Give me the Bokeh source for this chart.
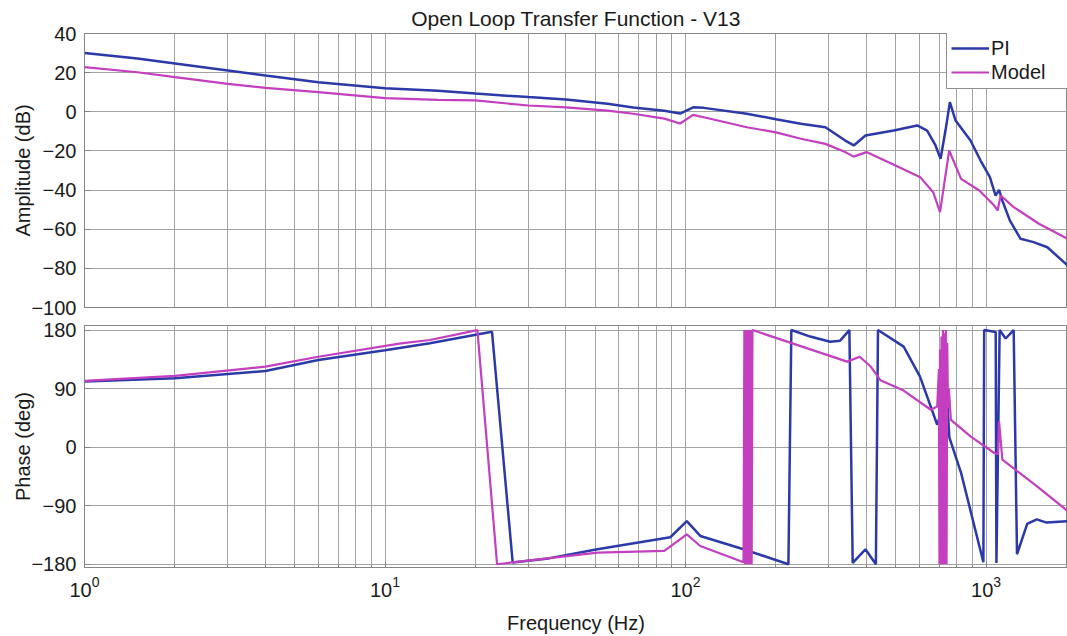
from bokeh.plotting import figure
from bokeh.layouts import column
from bokeh.models import FixedTicker, Legend, LegendItem, Range1d
from bokeh.embed import file_html
from bokeh.resources import INLINE

# ---- data: open-loop transfer function, PI controller vs model ----
# amplitude (dB)
pi_amp_f = [1, 1.5, 2, 3, 4, 6, 10, 15, 20, 30, 40, 55, 67, 85, 96, 106, 115, 160, 200,
            242, 292, 340, 363, 397, 493, 590, 637, 679, 706, 733, 758, 792, 888, 959,
            1030, 1076, 1105, 1133, 1200, 1303, 1439, 1600, 1867]
pi_amp = [30, 27.2, 24.7, 21.1, 18.5, 15.1, 12, 10.8, 9.3, 7.5, 6.3, 4.1, 2.2, 0.5, -0.9,
          2.3, 2.0, -1.0, -3.8, -6.1, -7.9, -14.7, -17.2, -12.1, -9.6, -7.0, -9.6, -17.2,
          -24, -9.6, 4.9, -4.5, -14.7, -24.9, -33.4, -42.8, -39.9, -45.3, -55.5, -64.9,
          -66.6, -69.2, -78.5]

model_amp_f = [1, 1.5, 2, 3, 4, 6, 10, 15, 20, 30, 40, 55, 67, 85, 96, 106, 115, 160, 200,
               242, 292, 340, 363, 400, 500, 604, 667, 703, 754, 826, 950, 1065, 1093,
               1119, 1236, 1500, 1867]
model_amp = [22.8, 20.2, 17.7, 14.3, 12.2, 10.0, 7.0, 6.1, 5.8, 3.2, 2.3, 0.6, -1.0, -3.5,
             -6.0, -1.6, -2.8, -7.9, -10.5, -13.8, -16.4, -20.6, -22.9, -20.6, -27.5,
             -33.4, -41.1, -51.3, -19.8, -34.3, -40.2, -47.9, -50.4, -42.8, -48.7, -57.2,
             -64.9]

# phase (deg), wrapped to +/-180
pi_ph_f = [1, 2, 4, 6, 10, 14.1, 22.7, 26.6, 35, 50.9, 89, 101, 112, 156, 220, 225, 260,
           303, 327, 351, 360, 397, 430, 437, 532, 603, 688, 700, 735, 745, 755, 826, 980,
           986, 1077, 1083, 1110, 1162, 1236, 1268, 1371, 1475, 1591, 1867]
pi_ph = [100.8, 106, 117, 134, 149, 159.6, 177.4, -177.3, -171, -157, -138.5, -113.6,
         -136.5, -157, -180, 180, 170, 162, 163.7, 180, -178, -157, -180, 180, 154.5,
         108.5, 34.5, 45, 60, 62, 15, -39.5, -177, 180, 177, -178, 180, 167, 180, -164.6,
         -118, -111, -116, -114]

model_ph_f = [1, 2, 4, 6, 11.3, 14.1, 20.3, 23.6, 51, 85, 101, 112, 156, 157, 158, 159,
              160, 161, 162, 163, 164, 165, 166, 167, 345, 380, 413, 445, 532, 655, 688,
              697, 700, 703, 707, 711, 715, 719, 723, 727, 731, 735, 739, 743, 747, 752,
              764, 888, 1065, 1095, 1105, 1133, 1475, 1867]
model_ph = [101.9, 109.6, 123.8, 139, 159.6, 164.7, 180, -180, -162, -159.5, -134, -152,
            -177, 180, -180, 180, -180, 180, -180, 180, -180, 180, -180, 180, 131.5, 139,
            124, 103, 87, 57.5, 62.6, 120, -180, 150, -180, 170, -180, 180, -180, 175,
            -180, 180, -180, 160, 60, 90, 42, 16.6, -9, -11, 39.6, -19, -60, -98]

amp_ticks = [-100, -80, -60, -40, -20, 0, 20, 40]
phase_ticks = [-180, -90, 0, 90, 180]
decade_ticks = [1, 10, 100, 1000]

FONT = "Liberation Sans"
BLUE = "#2c39a9"
MAGENTA = "#c33fbf"
GRID = "#a3a3a3"
FRAME = "#858585"

minor_log = [m * 10 ** e for e in range(4) for m in range(2, 10)]
x_range = Range1d(1, 1867)


def style(p, ylabel, yticks):
    p.outline_line_color = FRAME
    p.outline_line_width = 1
    p.background_fill_color = "white"
    p.border_fill_color = "white"
    p.xgrid.ticker = FixedTicker(ticks=decade_ticks, minor_ticks=minor_log)
    p.xgrid.grid_line_color = GRID
    p.xgrid.minor_grid_line_color = GRID
    p.ygrid.grid_line_color = GRID
    p.xaxis.ticker = FixedTicker(ticks=decade_ticks, minor_ticks=minor_log)
    p.yaxis.ticker = FixedTicker(ticks=yticks)
    p.ygrid.ticker = FixedTicker(ticks=yticks)
    for ax in p.axis:
        ax.axis_line_color = FRAME
        ax.major_tick_line_color = FRAME
        ax.minor_tick_line_color = FRAME
        ax.major_tick_in = 6
        ax.major_tick_out = 0
        ax.minor_tick_in = 3
        ax.minor_tick_out = 0
        ax.major_label_text_font = FONT
        ax.major_label_text_font_size = "20px"
        ax.major_label_text_color = "#1a1a1a"
        ax.axis_label_text_font = FONT
        ax.axis_label_text_font_size = "20px"
        ax.axis_label_text_font_style = "normal"
        ax.axis_label_text_color = "#1a1a1a"
    p.yaxis.minor_tick_line_color = None
    p.yaxis.major_label_standoff = 8
    p.yaxis.axis_label_standoff = -6
    p.yaxis.axis_label = ylabel


top = figure(width=1067, height=318, x_axis_type="log", x_range=x_range,
             y_range=Range1d(-100, 40), output_backend="svg", toolbar_location=None,
             min_border_left=84, min_border_right=0, min_border_top=33,
             min_border_bottom=11, title="Open Loop Transfer Function - V13")
top.title.align = "center"
top.title.text_font = FONT
top.title.text_font_size = "21px"
top.title.text_font_style = "normal"
top.title.text_color = "#1a1a1a"
top.title.standoff = 7
style(top, "Amplitude (dB)", amp_ticks)
top.xaxis.visible = False

r_pi = top.line(pi_amp_f, pi_amp, line_color=BLUE, line_width=2.5)
r_md = top.line(model_amp_f, model_amp, line_color=MAGENTA, line_width=2.2)

legend = Legend(items=[LegendItem(label="PI", renderers=[r_pi]),
                       LegendItem(label="Model", renderers=[r_md])],
                location=(862, 218))
legend.border_line_color = "#222222"
legend.border_line_width = 1.2
legend.background_fill_color = "white"
legend.background_fill_alpha = 1
legend.label_text_font = FONT
legend.label_text_font_size = "20px"
legend.label_text_color = "#1a1a1a"
legend.glyph_width = 38
legend.glyph_height = 24
legend.label_height = 24
legend.label_width = 90
legend.label_standoff = 2
legend.spacing = 0
legend.padding = 4
legend.margin = 0
top.add_layout(legend)

bottom = figure(width=1067, height=318, x_axis_type="log", x_range=x_range,
                y_range=Range1d(-185, 187), output_backend="svg", toolbar_location=None,
                min_border_left=84, min_border_right=0, min_border_top=7,
                min_border_bottom=68)
style(bottom, "Phase (deg)", phase_ticks)
bottom.xaxis.axis_label = "Frequency (Hz)"
bottom.xaxis.major_label_standoff = 8
bottom.xaxis.axis_label_standoff = 12

bottom.line(pi_ph_f, pi_ph, line_color=BLUE, line_width=2.5)
bottom.line(model_ph_f, model_ph, line_color=MAGENTA, line_width=2.2)

layout = column(top, bottom, spacing=0)
open("out.html", "w").write(file_html(layout, INLINE))
